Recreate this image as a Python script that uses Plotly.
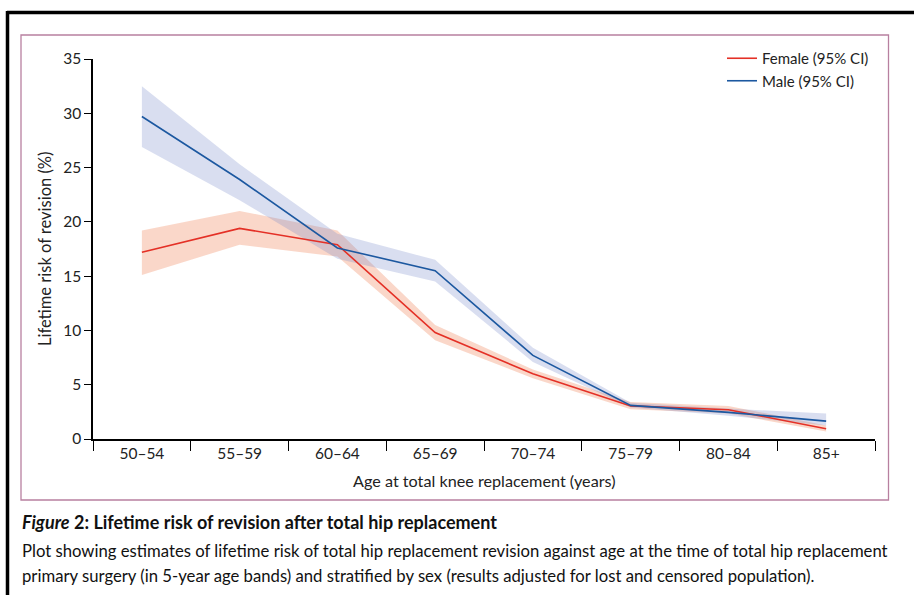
import plotly.graph_objects as go

age_bands = ["50–54", "55–59", "60–64", "65–69", "70–74", "75–79", "80–84", "85+"]

female = [17.2, 19.4, 17.9, 9.8, 6.0, 3.05, 2.7, 0.95]
female_lo = [15.1, 17.9, 16.8, 9.1, 5.6, 2.75, 2.35, 0.7]
female_hi = [19.2, 21.0, 19.2, 10.5, 6.4, 3.4, 3.05, 1.25]

male = [29.7, 23.9, 17.6, 15.5, 7.7, 3.1, 2.45, 1.65]
male_lo = [26.9, 22.0, 16.6, 14.5, 7.1, 2.9, 2.15, 1.25]
male_hi = [32.5, 25.3, 18.9, 16.5, 8.4, 3.35, 2.8, 2.35]

y_ticks = [0, 5, 10, 15, 20, 25, 30, 35]

FONT = "Lato, 'Open Sans', sans-serif"
RED = "rgb(228,48,38)"
BLUE = "rgb(28,88,160)"
RED_FILL = "rgba(242,140,100,0.35)"
BLUE_FILL = "rgba(120,135,200,0.28)"

W, H = 914, 595

fig = go.Figure()

# confidence bands
for hi, lo, fc in [(female_hi, female_lo, RED_FILL), (male_hi, male_lo, BLUE_FILL)]:
    fig.add_trace(go.Scatter(x=age_bands, y=hi, mode="lines", line=dict(width=0),
                             showlegend=False, hoverinfo="skip"))
    fig.add_trace(go.Scatter(x=age_bands, y=lo, mode="lines", line=dict(width=0),
                             fill="tonexty", fillcolor=fc, showlegend=False, hoverinfo="skip"))

fig.add_trace(go.Scatter(x=age_bands, y=female, mode="lines", name="Female (95% CI)",
                         line=dict(color=RED, width=1.6)))
fig.add_trace(go.Scatter(x=age_bands, y=male, mode="lines", name="Male (95% CI)",
                         line=dict(color=BLUE, width=1.6)))

x0, x1 = 93 / W, 875 / W
y0, y1 = 1 - 439 / H, 1 - 59 / H

fig.update_layout(
    template="none",
    width=W, height=H, autosize=False,
    margin=dict(l=0, r=0, t=0, b=0, pad=0),
    paper_bgcolor="white", plot_bgcolor="white",
    font=dict(family=FONT, size=15, color="#222"),
    xaxis=dict(domain=[x0, x1], type="category", range=[-0.5, 7.5], automargin=False,
               tickson="boundaries", ticks="outside", ticklen=10, tickwidth=1.2,
               tickcolor="black", showline=True, linecolor="black", linewidth=1.5,
               showgrid=False, zeroline=False, tickfont=dict(size=15.5, color="#222")),
    yaxis=dict(domain=[y0, y1], range=[0, 35], tickvals=y_ticks, automargin=False,
               ticks="outside", ticklen=7, tickwidth=1.2, tickcolor="black",
               showline=True, linecolor="black", linewidth=1.5,
               showgrid=False, zeroline=False, tickfont=dict(size=15.5, color="#222")),
    legend=dict(x=722 / W, y=1 - 42 / H, xanchor="left", yanchor="top",
                bgcolor="rgba(0,0,0,0)", font=dict(size=15, color="#222"),
                traceorder="normal", tracegroupgap=0, itemwidth=30),
    showlegend=True,
)

shapes = [
    # outer black frame (top and left)
    dict(type="line", xref="paper", yref="paper", x0=7 / W, x1=1.0, y0=1 - 12.5 / H, y1=1 - 12.5 / H,
         line=dict(color="black", width=3.5)),
    dict(type="line", xref="paper", yref="paper", x0=7.5 / W, x1=7.5 / W, y0=0, y1=1 - 11 / H,
         line=dict(color="black", width=3.5)),
    # pink figure box
    dict(type="rect", xref="paper", yref="paper", x0=21 / W, x1=888.5 / W, y0=1 - 500 / H, y1=1 - 35 / H,
         line=dict(color="rgb(184,128,160)", width=1.3), fillcolor="rgba(0,0,0,0)", layer="below"),
]
fig.update_layout(shapes=shapes)

annotations = [
    dict(text="Lifetime risk of revision (%)", xref="paper", yref="paper",
         x=45 / W, y=1 - 249 / H, textangle=-90, showarrow=False,
         xanchor="center", yanchor="middle", font=dict(size=16.5, color="#222")),
    dict(text="Age at total knee replacement (years)", xref="paper", yref="paper",
         x=484 / W, y=1 - 480 / H, showarrow=False,
         xanchor="center", yanchor="middle", font=dict(size=16.2, color="#222")),
    dict(text="<b><i>Figure</i> 2: Lifetime risk of revision after total hip replacement</b>",
         xref="paper", yref="paper", x=20 / W, y=1 - 522 / H, showarrow=False,
         xanchor="left", yanchor="middle", font=dict(size=18, color="#111")),
    dict(text="Plot showing estimates of lifetime risk of total hip replacement revision against age at the time of total hip replacement",
         xref="paper", yref="paper", x=20 / W, y=1 - 551 / H, showarrow=False,
         xanchor="left", yanchor="middle", font=dict(size=16.7, color="#111")),
    dict(text="primary surgery (in 5-year age bands) and stratified by sex (results adjusted for lost and censored population).",
         xref="paper", yref="paper", x=20 / W, y=1 - 576 / H, showarrow=False,
         xanchor="left", yanchor="middle", font=dict(size=16.7, color="#111")),
]
fig.update_layout(annotations=annotations)

fig.write_html(
    "out.html",
    config={"displayModeBar": False},
    post_script="document.body.style.margin='0';document.body.style.overflow='hidden';",
)
